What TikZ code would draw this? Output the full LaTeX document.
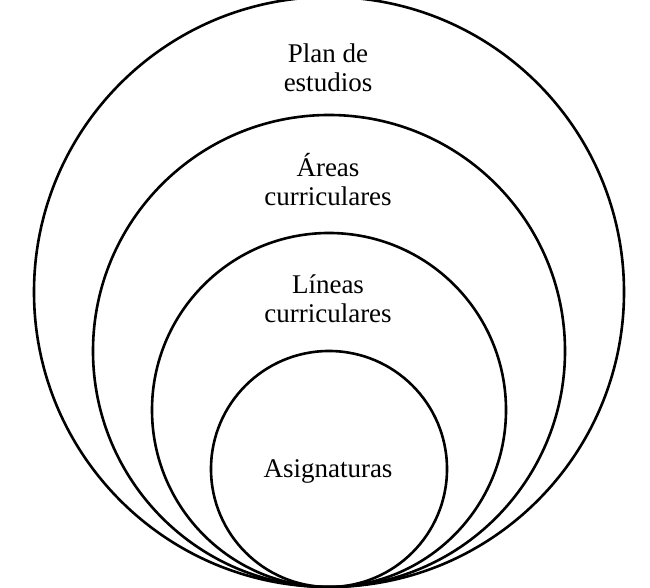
\documentclass[tikz,border=0pt]{standalone}
\usepackage{fontspec}
\setmainfont{Liberation Serif}
\usetikzlibrary{calc}
\begin{document}
\begin{tikzpicture}[x=1pt,y=1pt,
  ring/.style={draw=black,line width=2.6pt},
  lbl/.style={align=center,anchor=base,inner sep=0pt,font=\fontsize{27}{29}\selectfont}]
\useasboundingbox (0,0) rectangle (650,588);
\coordinate (touch) at (329,1);
\draw[ring] ($(touch)+(0,295)$) circle (295);
\draw[ring] ($(touch)+(0,236)$) circle (236);
\draw[ring] ($(touch)+(0,177)$) circle (177);
\draw[ring] ($(touch)+(0,118)$) circle (118);
\node[lbl] (plan) at (328,496) {Plan de\\estudios};
\node[lbl] (areas) at (328,382) {Áreas\\curriculares};
\node[lbl] (lineas) at (328,265) {Líneas\\curriculares};
\node[lbl] (asig) at (328,110) {Asignaturas};
\end{tikzpicture}
\end{document}
